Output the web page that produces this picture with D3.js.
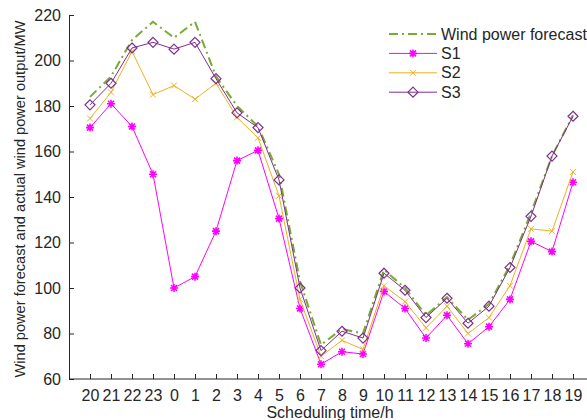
<!DOCTYPE html>
<html>
<head>
<meta charset="utf-8">
<script src="https://cdn.jsdelivr.net/npm/d3@7"></script>
<style>
  body { margin: 0; background: #fff; }
  text { font-family: "Liberation Sans", Arial, sans-serif; fill: #262626; }
</style>
</head>
<body>
<div id="chart"></div>
<script>
var hours = ["20","21","22","23","0","1","2","3","4","5","6","7","8","9","10","11","12","13","14","15","16","17","18","19"];
var forecast = [184, 193, 209, 217, 210, 217, 193, 180, 171, 150, 103, 75, 82, 80, 108, 100, 88, 96, 86, 93, 110, 133, 158, 176];
var s1 = [170.5, 181, 171, 150, 100, 105, 125, 156, 160.5, 130.5, 91, 66.5, 72, 71, 98.5, 91, 78, 88, 75.5, 83, 95, 120.5, 116, 146.5];
var s2 = [174.5, 186, 204, 185, 189, 183, 190, 175, 166, 140.5, 95, 70, 77, 73, 101, 94, 82.5, 92, 80, 87, 101, 126, 125, 151];
var s3 = [180.5, 190, 205.5, 208, 205, 208, 192, 177, 170.5, 147.5, 100, 72.5, 81, 78, 106.5, 99, 87, 95.5, 84.5, 92, 109, 131.5, 158, 175.5];
var yTicks = [60, 80, 100, 120, 140, 160, 180, 200, 220];

var width = 587, height = 420;
var plotLeft = 69, plotBottom = 379, plotTop = 15, plotRight = 587;

var svg = d3.select('#chart').append('svg')
  .attr('width', width)
  .attr('height', height);

var x = d3.scalePoint().domain(hours).range([90, 573]);
var y = d3.scaleLinear().domain([60, 220]).range([plotBottom, plotTop]);

// axes, ticks pointing inward
var yAxis = svg.append('g')
  .attr('transform', 'translate(' + plotLeft + ',0)')
  .call(d3.axisLeft(y).tickValues(yTicks).tickSizeInner(-5).tickSizeOuter(0).tickPadding(8));
yAxis.select('.domain').attr('stroke', '#262626');
yAxis.selectAll('line').attr('stroke', '#262626');
yAxis.selectAll('text').style('font-size', '16px').attr('fill', '#262626');

var xAxis = svg.append('g')
  .attr('transform', 'translate(0,' + plotBottom + ')')
  .call(d3.axisBottom(x).tickSizeInner(-5).tickSizeOuter(0).tickPadding(11));
xAxis.select('.domain').attr('d', 'M' + plotLeft + ',0H' + plotRight).attr('stroke', '#262626');
xAxis.selectAll('line').attr('stroke', '#262626');
xAxis.selectAll('text').style('font-size', '16px').attr('fill', '#262626');

svg.append('text')
  .attr('x', 330).attr('y', 418)
  .attr('text-anchor', 'middle')
  .style('font-size', '16px')
  .text('Scheduling time/h');

svg.append('text')
  .attr('transform', 'translate(25,' + 199 + ') rotate(-90)')
  .attr('text-anchor', 'middle')
  .style('font-size', '14.6px')
  .text('Wind power forecast and actual wind power output/MW');

var line = d3.line()
  .x(function (d, i) { return x(hours[i]); })
  .y(function (d) { return y(d); });

var series = [
  {name: 'Wind power forecast', values: forecast, color: '#77ac30', width: 2, dash: '9,4,2,4', marker: null},
  {name: 'S1', values: s1, color: '#ff00ff', width: 1, dash: null, marker: 'star'},
  {name: 'S2', values: s2, color: '#edb120', width: 1, dash: null, marker: 'x'},
  {name: 'S3', values: s3, color: '#7e2f8e', width: 1, dash: null, marker: 'diamond'}
];

function drawMarker(g, type, cx, cy, color) {
  var r;
  if (type === 'star') {
    r = 4;
    g.append('path')
      .attr('d', 'M' + (cx - r) + ',' + cy + 'H' + (cx + r) + 'M' + cx + ',' + (cy - r) + 'V' + (cy + r) +
        'M' + (cx - 3) + ',' + (cy - 3) + 'L' + (cx + 3) + ',' + (cy + 3) +
        'M' + (cx - 3) + ',' + (cy + 3) + 'L' + (cx + 3) + ',' + (cy - 3))
      .attr('stroke', color).attr('stroke-width', 1.6).attr('fill', 'none');
  } else if (type === 'x') {
    r = 3;
    g.append('path')
      .attr('d', 'M' + (cx - r) + ',' + (cy - r) + 'L' + (cx + r) + ',' + (cy + r) +
        'M' + (cx - r) + ',' + (cy + r) + 'L' + (cx + r) + ',' + (cy - r))
      .attr('stroke', color).attr('stroke-width', 1).attr('fill', 'none');
  } else if (type === 'diamond') {
    r = 5;
    g.append('path')
      .attr('d', 'M' + cx + ',' + (cy - r) + 'L' + (cx + r) + ',' + cy + 'L' + cx + ',' + (cy + r) + 'L' + (cx - r) + ',' + cy + 'Z')
      .attr('stroke', color).attr('stroke-width', 1.2).attr('fill', 'none');
  }
}

series.forEach(function (s) {
  var g = svg.append('g');
  g.append('path')
    .datum(s.values)
    .attr('d', line)
    .attr('fill', 'none')
    .attr('stroke', s.color)
    .attr('stroke-width', s.width)
    .attr('stroke-dasharray', s.dash);
  if (s.marker) {
    s.values.forEach(function (v, i) {
      drawMarker(g, s.marker, x(hours[i]), y(v), s.color);
    });
  }
});

// legend
var legend = svg.append('g');
series.forEach(function (s, i) {
  var ly = 34 + i * 19.4;
  legend.append('line')
    .attr('x1', 389).attr('x2', 437)
    .attr('y1', ly).attr('y2', ly)
    .attr('stroke', s.color)
    .attr('stroke-width', s.width)
    .attr('stroke-dasharray', s.dash);
  if (s.marker) drawMarker(legend, s.marker, 413, ly, s.color);
  legend.append('text')
    .attr('x', 441).attr('y', ly + 5.5)
    .style('font-size', '16px')
    .text(s.name);
});
</script>
</body>
</html>
